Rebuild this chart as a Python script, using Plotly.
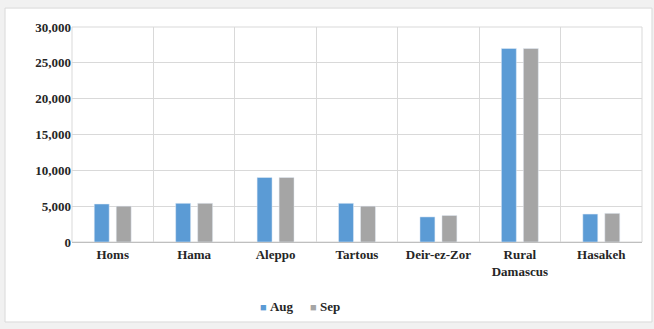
import plotly.graph_objects as go

categories = ["Homs", "Hama", "Aleppo", "Tartous", "Deir-ez-Zor", "Rural<br>Damascus", "Hasakeh"]
aug = [5300, 5400, 9000, 5400, 3500, 27000, 3900]
sep = [5000, 5400, 9000, 5000, 3700, 27000, 4000]
y_ticks = [0, 5000, 10000, 15000, 20000, 25000, 30000]
y_tick_text = ["0", "5,000", "10,000", "15,000", "20,000", "25,000", "30,000"]
series_names = ["Aug", "Sep"]
series_colors = ["#5b9bd5", "#a5a5a5"]

FAM = "Liberation Serif"

def f(size=13):
    return dict(family=FAM, size=size, color="#262626")

fig = go.Figure()
for name, vals, col in zip(series_names, [aug, sep], series_colors):
    fig.add_trace(go.Bar(name=name, x=categories, y=vals, marker_color=col, showlegend=False))
# invisible trace to host vertical category-boundary gridlines
fig.add_trace(go.Scatter(x=[0, 6], y=[0, 0], xaxis="x2", mode="markers",
                         marker=dict(opacity=0), showlegend=False, hoverinfo="skip"))

# legend drawn as text entries
legend_x = [258, 308]
for name, col, px in zip(series_names, series_colors, legend_x):
    fig.add_annotation(xref="paper", yref="paper", x=(px - 72) / 570, y=(242 - 306) / 215,
                       xanchor="left", yanchor="middle", showarrow=False,
                       text=f"<span style='color:{col};font-size:11px'>■</span> <b>{name}</b>",
                       font=f())

fig.update_layout(
    width=654, height=329,
    margin=dict(l=72, r=12, t=27, b=87, autoexpand=False),
    paper_bgcolor="#f1f1f1",
    plot_bgcolor="white",
    barmode="group",
    bargap=0.46,
    bargroupgap=0.32,
    font=f(),
    showlegend=False,
    xaxis=dict(tickfont=f(), showgrid=False, showline=True, linecolor="#bfbfbf",
               linewidth=1, ticks="", tickangle=0, automargin=False,
               tickmode="array", tickvals=categories,
               ticktext=["<b>" + c.replace("<br>", "</b><br><b>") + "</b>" for c in categories]),
    xaxis2=dict(overlaying="x", range=[-0.5, 6.5], tick0=0.5, dtick=1,
                showgrid=True, gridcolor="#d9d9d9", showticklabels=False,
                zeroline=False, showline=False),
    yaxis=dict(range=[0, 30000], tickvals=y_ticks, ticktext=["<b>" + t + "</b>" for t in y_tick_text],
               showgrid=True, gridcolor="#d9d9d9", zeroline=False,
               tickfont=f(), ticks="", ticklen=0, automargin=False),
    shapes=[dict(type="rect", xref="paper", yref="paper",
                 x0=-0.1175, x1=1.0175, y0=-0.372, y1=1.088,
                 fillcolor="white", line=dict(color="#d9d9d9", width=1), layer="below")],
)
fig.add_shape(type="rect", xref="paper", yref="paper", x0=0, x1=1, y0=0, y1=1,
              line=dict(color="#d9d9d9", width=1), fillcolor="rgba(0,0,0,0)", layer="below")

fig.write_html("out.html", config={"displayModeBar": False},
               post_script="document.body.style.margin='0';")
